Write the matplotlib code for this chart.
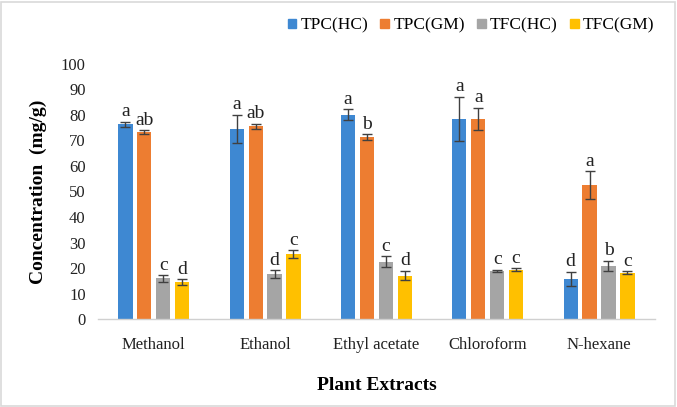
import matplotlib
matplotlib.use("Agg")
import matplotlib.pyplot as plt
import matplotlib.patches
import numpy as np

EXTRACTS = ["Methanol", "Ethanol", "Ethyl acetate", "Chloroform", "N-hexane"]
SERIES = ["TPC(HC)", "TPC(GM)", "TFC(HC)", "TFC(GM)"]
COLORS = ["#3E88D2", "#ED7D31", "#A5A5A5", "#FFC000"]

TPC_HC = [76.3, 74.5, 80.1, 78.4, 15.9]
TPC_HC_ERR = [1.0, 5.6, 2.0, 8.7, 2.7]
TPC_GM = [73.3, 75.6, 71.2, 78.4, 52.4]
TPC_GM_ERR = [0.7, 1.0, 1.2, 4.4, 5.5]
TFC_HC = [16.0, 17.6, 22.5, 18.9, 21.0]
TFC_HC_ERR = [1.3, 1.5, 2.1, 0.5, 2.0]
TFC_GM = [14.5, 25.5, 17.1, 19.3, 18.3]
TFC_GM_ERR = [1.2, 1.5, 1.8, 0.6, 0.4]

LETTERS_TPC_HC = ["a", "a", "a", "a", "d"]
LETTERS_TPC_GM = ["ab", "ab", "b", "a", "a"]
LETTERS_TFC_HC = ["c", "d", "c", "c", "b"]
LETTERS_TFC_GM = ["d", "c", "d", "c", "c"]


def main():
    plt.rcParams["font.family"] = ["Liberation Serif", "DejaVu Serif"]
    fig = plt.figure(figsize=(6.77, 4.07), dpi=100)
    ax = fig.add_axes([0.145, 0.2155, 0.822, 0.628])

    values = [TPC_HC, TPC_GM, TFC_HC, TFC_GM]
    errors = [TPC_HC_ERR, TPC_GM_ERR, TFC_HC_ERR, TFC_GM_ERR]
    letters = [LETTERS_TPC_HC, LETTERS_TPC_GM, LETTERS_TFC_HC, LETTERS_TFC_GM]

    x = np.arange(len(EXTRACTS))
    step = 0.17
    width = 0.128
    for i, (name, vals, errs, lets, color) in enumerate(
        zip(SERIES, values, errors, letters, COLORS)
    ):
        pos = x + (i - 1.5) * step
        ax.bar(
            pos,
            vals,
            width=width,
            color=color,
            label=name,
            yerr=errs,
            error_kw=dict(ecolor="#404040", elinewidth=1.0, capsize=3.5, capthick=1.0),
        )
        for px, v, e, t in zip(pos, vals, errs, lets):
            ax.text(px, v + e + 0.6, t, ha="center", va="bottom", fontsize=14,
                    color="#222222")

    ax.set_xlim(-0.5, len(EXTRACTS) - 0.5)
    ax.set_ylim(0, 100)
    ax.set_yticks(range(0, 101, 10))
    ax.set_xticks(x)
    ax.set_xticklabels(EXTRACTS)
    ax.tick_params(axis="both", length=0, labelsize=12, colors="#222222")
    ax.tick_params(axis="x", pad=13)
    ax.tick_params(axis="y", pad=9)
    for side in ["top", "right", "left"]:
        ax.spines[side].set_visible(False)
    ax.spines["bottom"].set_color("#D0D0D0")
    ax.spines["bottom"].set_linewidth(1.0)

    ax.set_ylabel("Concentration  (mg/g)", fontsize=14, fontweight="bold",
                  labelpad=10)
    ax.set_xlabel("Plant Extracts", fontsize=14, fontweight="bold", labelpad=17)

    handles = [matplotlib.patches.Patch(color=c, label=s) for c, s in zip(COLORS, SERIES)]
    fig.legend(
        handles=handles,
        loc="upper right",
        bbox_to_anchor=(0.99, 0.995),
        ncol=4,
        frameon=False,
        fontsize=12.5,
        handlelength=0.5,
        handleheight=0.5,
        handletextpad=0.25,
        columnspacing=0.7,
    )

    fig.patches.append(
        matplotlib.patches.Rectangle(
            (0.002, 0.003), 0.995, 0.993, transform=fig.transFigure,
            fill=False, edgecolor="#D9D9D9", linewidth=1.2,
        )
    )
    fig.savefig("out.png", dpi=100)


if __name__ == "__main__":
    main()
